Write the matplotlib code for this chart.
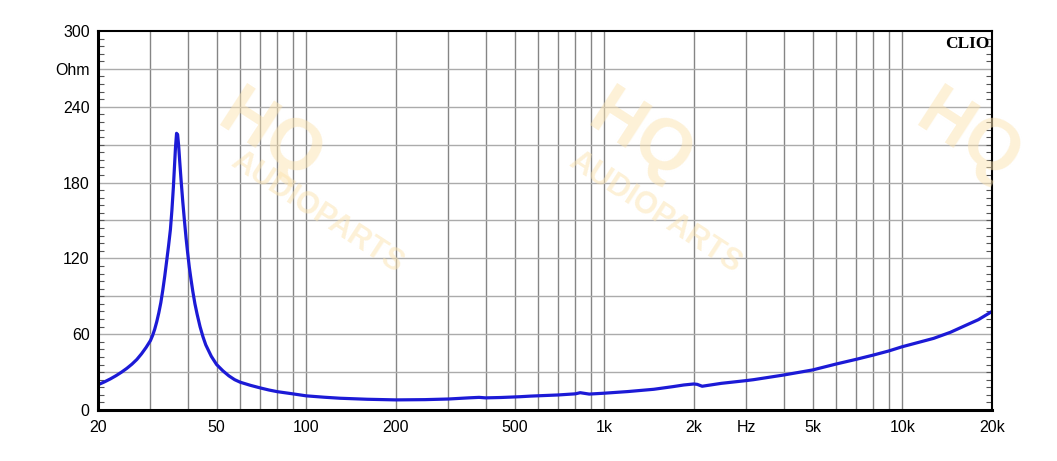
import numpy as np
import matplotlib
matplotlib.use("Agg")
import matplotlib.pyplot as plt
from matplotlib.ticker import FixedLocator, NullFormatter

# ---- data ----
freq_hz = [20, 21, 22, 23, 24, 25, 26, 27, 28, 29, 30, 30.5, 31, 31.5, 32,
           32.5, 33, 33.5, 34, 34.5, 35, 35.4, 35.8, 36.1, 36.4, 36.7, 37.0,
           37.3, 37.6, 38.0, 38.5, 39, 39.5, 40, 40.5, 41, 41.6, 42.3, 43, 44,
           45, 46, 48, 50, 52.5, 55, 57.5, 60, 65, 70, 75, 80, 90, 100, 115,
           130, 160, 200, 250, 300, 350, 380, 400, 450, 520, 566, 700, 800,
           830, 890, 1000, 1200, 1466, 1700, 1848, 1995, 2050, 2130, 2470,
           3000, 3168, 4000, 5000, 6000, 7000, 8000, 9000, 10000, 12739,
           14500, 16500, 18000, 20000]
impedance_ohm = [20, 22.2, 24.6, 27.2, 30, 33, 36.3, 40, 44.5, 49.5, 55, 59, 64, 70, 77,
                 85, 95, 106, 118, 130, 143, 158, 176, 192, 208, 219, 218,
                 209, 197, 182, 165, 150, 136, 124, 113, 104, 94, 84, 76, 66,
                 58, 51.5, 42.5, 36, 31, 27, 24, 22, 19.5, 17.5, 15.8, 14.5, 12.8, 11.2, 10.1,
                 9.3, 8.5, 8.0, 8.2, 8.7, 9.6, 10.0, 9.6, 9.9, 10.5,
                 11.0, 11.9, 12.8, 13.7, 12.6, 13.3, 14.6, 16.4, 18.5, 19.8, 20.6,
                 20.3, 18.8, 21.1, 23.3, 24.0, 27.7, 31.7, 36.4, 40.1, 43.5,
                 46.7, 50.1, 56.7, 61.5, 67.5, 71.5, 78]

x_tick_values = [20, 50, 100, 200, 500, 1000, 2000, 3000, 5000, 10000, 20000]
x_tick_labels = ["20", "50", "100", "200", "500", "1k", "2k", "Hz", "5k", "10k", "20k"]
y_tick_values = [0, 60, 120, 180, 240, 270, 300]
y_tick_labels = ["0", "60", "120", "180", "240", "Ohm", "300"]

plt.rcParams['font.family'] = ['Liberation Sans', 'DejaVu Sans']

fig = plt.figure(figsize=(10.57, 4.61), dpi=100)
fig.patch.set_facecolor("white")
ax = fig.add_axes([98/1057, 51/461, 894/1057, 379/461])

# watermark (faint)
wm_color = "#fbe3b0"
for (hx, hy) in [(0.255, 0.70), (0.605, 0.70), (0.915, 0.70)]:
    fig.text(hx, hy, "HQ", fontsize=52, fontweight="bold", color=wm_color,
             rotation=-33, ha="center", va="center", alpha=0.5, zorder=0)
for (wx, wy) in [(0.30, 0.54), (0.62, 0.54)]:
    fig.text(wx, wy, "AUDIOPARTS", fontsize=22, fontweight="bold", color=wm_color,
             rotation=-33, ha="center", va="center", alpha=0.5, zorder=0)
ax.patch.set_alpha(0)

ax.set_xscale("log")
ax.set_xlim(20, 20000)
ax.set_ylim(0, 300)

# grid
vgrid = [f * d for d in (10, 100, 1000) for f in range(2, 11)]
vgrid = [v for v in vgrid if 20 < v < 20000]
for v in vgrid:
    ax.axvline(v, color="#858585", lw=1.0, zorder=1)
for h in range(30, 300, 30):
    ax.axhline(h, color="#ababab", lw=1.0, zorder=1)

ax.plot(freq_hz, impedance_ohm, color="#1c1ad6", lw=2.3, zorder=3,
        solid_joinstyle="round", solid_capstyle="round")

# ticks
ax.xaxis.set_major_locator(FixedLocator(x_tick_values))
ax.set_xticklabels(x_tick_labels)
ax.xaxis.set_minor_locator(FixedLocator([]))
ax.xaxis.set_minor_formatter(NullFormatter())
ax.tick_params(axis="x", which="both", length=0, labelsize=11.5, pad=7)

ax.yaxis.set_major_locator(FixedLocator(y_tick_values))
ax.set_yticklabels(y_tick_labels)
ax.yaxis.set_minor_locator(FixedLocator(np.arange(0, 301, 6)))
ax.tick_params(axis="y", which="major", length=0, labelsize=11.5, pad=6)
ax.tick_params(axis="y", which="minor", direction="in", length=4, width=0.8,
               left=True, right=True, color="#555555")

for side in ("left", "bottom"):
    ax.spines[side].set_linewidth(2.2)
for side in ("top", "right"):
    ax.spines[side].set_linewidth(1.5)
for s in ax.spines.values():
    s.set_color("black")
    s.set_zorder(4)

ax.text(0.997, 0.988, "CLIO", transform=ax.transAxes, ha="right", va="top",
        fontsize=12.5, fontweight="bold", family="Liberation Serif", zorder=5)

fig.savefig("out.png", dpi=100, facecolor="white")
